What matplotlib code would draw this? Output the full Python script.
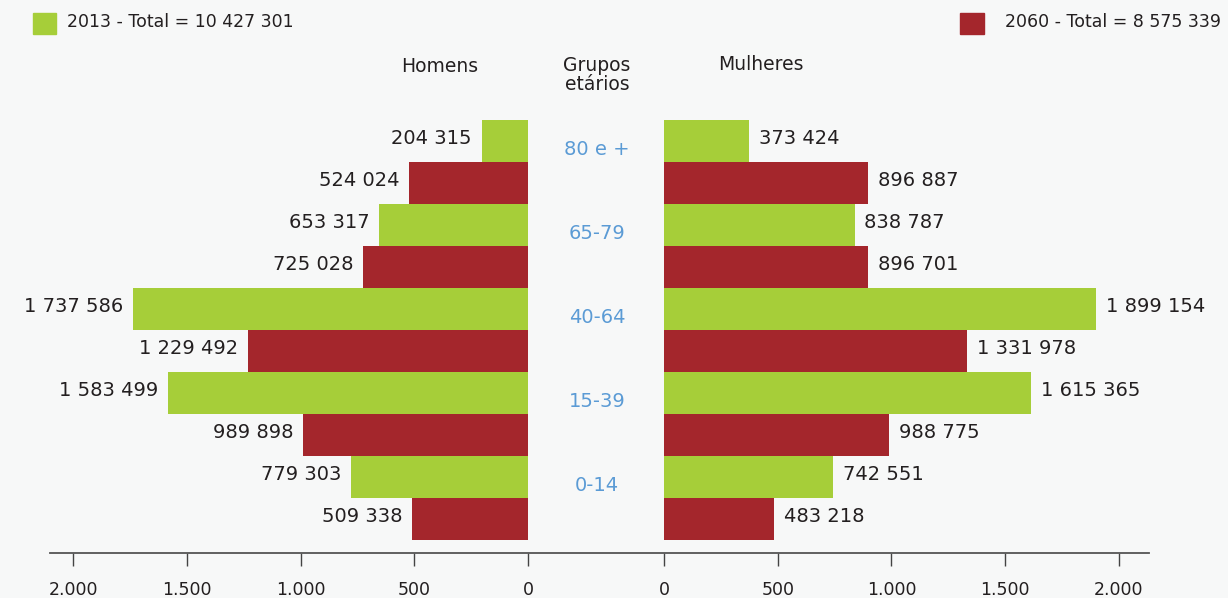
import numpy as np
import matplotlib.pyplot as plt
from matplotlib.lines import Line2D
from matplotlib.transforms import blended_transform_factory

# dados (pessoas)
grupos = ["80 e +", "65-79", "40-64", "15-39", "0-14"]
homens_2013 = [204315, 653317, 1737586, 1583499, 779303]
homens_2060 = [524024, 725028, 1229492, 989898, 509338]
mulheres_2013 = [373424, 838787, 1899154, 1615365, 742551]
mulheres_2060 = [896887, 896701, 1331978, 988775, 483218]
ticks = [0, 500, 1000, 1500, 2000]
tick_labels = ["0", "500", "1.000", "1.500", "2.000"]
legenda_2013 = "2013 - Total = 10 427 301"
legenda_2060 = "2060 - Total = 8 575 339"

verde = "#a6ce39"
vermelho = "#a4262c"
azul = "#5b9bd5"
fundo = "#f7f8f8"
texto = "#231f20"

W, H = 1228, 598
fig = plt.figure(figsize=(W / 100, H / 100), dpi=100, facecolor=fundo)


def rect(x0, x1, y_top, y_bot):
    return [x0 / W, 1 - y_bot / H, (x1 - x0) / W, (y_bot - y_top) / H]


ax_l = fig.add_axes(rect(50, 528, 120, 553))
ax_r = fig.add_axes(rect(664, 1149, 120, 553))


def fmt(v):
    return f"{v:,}".replace(",", " ")


n = len(grupos)
y_verde = np.arange(n) * 2
y_verm = y_verde + 1

for ax, v13, v60, lado in [(ax_l, homens_2013, homens_2060, -1),
                            (ax_r, mulheres_2013, mulheres_2060, 1)]:
    ax.set_facecolor(fundo)
    a = np.array(v13) / 1000
    b = np.array(v60) / 1000
    ax.barh(y_verde, a, height=1.0, color=verde, linewidth=0)
    ax.barh(y_verm, b, height=1.0, color=vermelho, linewidth=0)
    for y, val, raw in list(zip(y_verde, a, v13)) + list(zip(y_verm, b, v60)):
        ax.annotate(fmt(raw), (val, y), xytext=(7 * lado, 1.5), textcoords="offset points",
                    ha="right" if lado < 0 else "left", va="center",
                    fontsize=14, color=texto)
    ax.set_ylim(2 * n - 0.5 + 13 / 42, -0.5)
    for s in ax.spines.values():
        s.set_visible(False)
    ax.set_yticks([])
    ax.set_xticks(ticks)
    ax.set_xticklabels(tick_labels, fontsize=12.5, color=texto)
    ax.tick_params(axis="x", length=9.4, width=1, color="#444444", pad=11)

ax_l.set_xlim((528 - 50) / 0.2275, 0)
ax_r.set_xlim(0, (1149 - 664) / 0.2274)

# linha do eixo
fig.add_artist(Line2D([50 / W, 1149 / W], [1 - 553 / H, 1 - 553 / H], color="#555555", lw=1.3))

# grupos etários
tr = blended_transform_factory(fig.transFigure, ax_l.transData)
for i, g in enumerate(grupos):
    fig.text(597 / W, y_verde[i] + 0.21, g, transform=tr, ha="center", va="center",
             fontsize=14, color=azul)

# cabeçalhos
fig.text(440 / W, 1 - 66 / H, "Homens", ha="center", va="center", fontsize=13.5, color=texto)
fig.text(761 / W, 1 - 64 / H, "Mulheres", ha="center", va="center", fontsize=13.5, color=texto)
fig.text(597 / W, 1 - 75 / H, "Grupos\netários", ha="center", va="center", fontsize=13.5,
         color=texto, linespacing=0.95)

# legenda
fig.add_artist(plt.Rectangle((33 / W, 1 - 34 / H), 23 / W, 21 / H, color=verde,
                             transform=fig.transFigure))
fig.text(67 / W, 1 - 22 / H, legenda_2013, ha="left", va="center", fontsize=12.5, color=texto)
fig.add_artist(plt.Rectangle((960 / W, 1 - 34 / H), 24 / W, 21 / H, color=vermelho,
                             transform=fig.transFigure))
fig.text(1005 / W, 1 - 22 / H, legenda_2060, ha="left", va="center", fontsize=12.5, color=texto)

fig.savefig("out.png", dpi=100, facecolor=fundo)
